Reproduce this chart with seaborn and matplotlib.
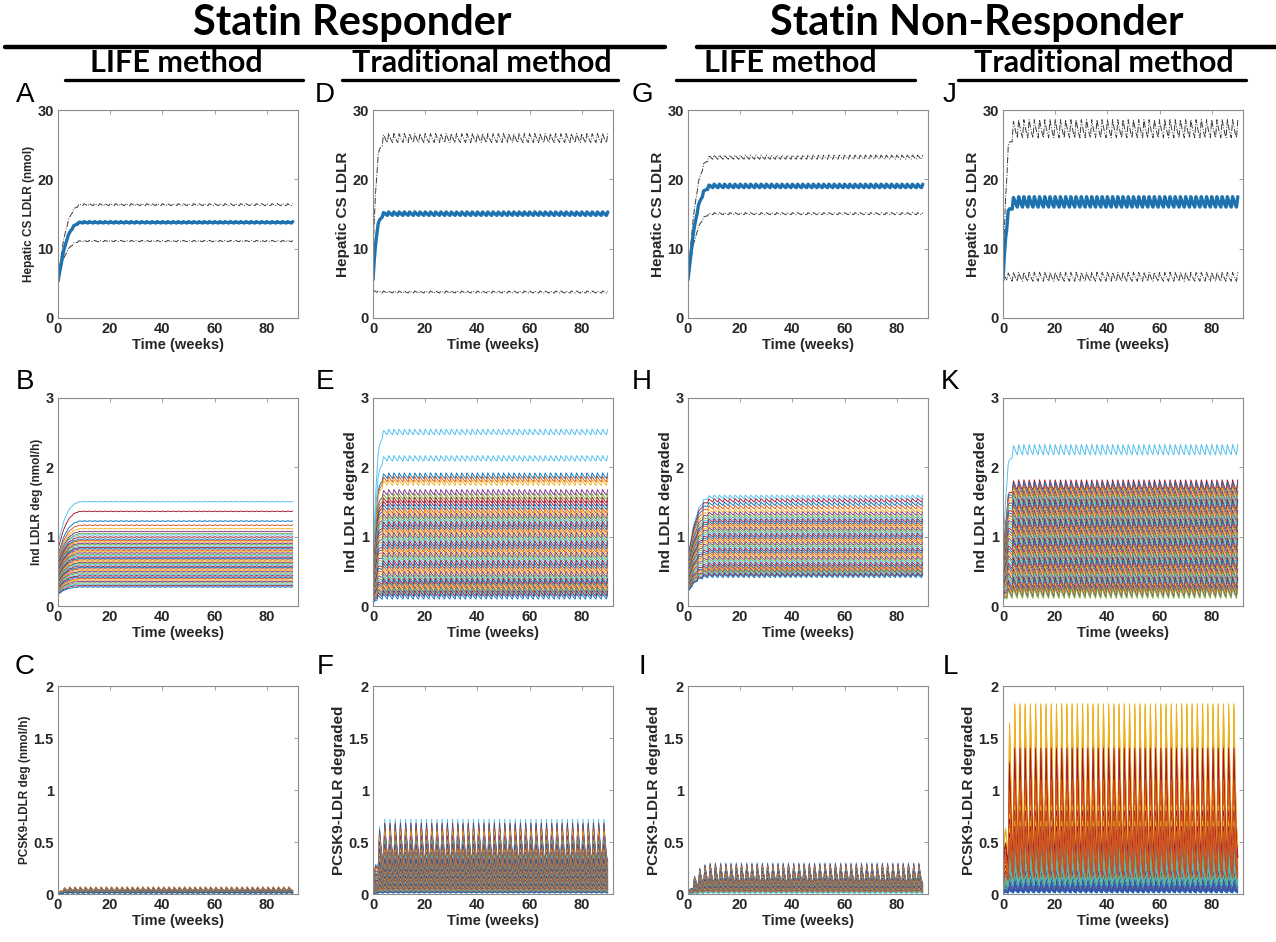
import numpy as np
import pandas as pd
import matplotlib
matplotlib.use("Agg")
import matplotlib.pyplot as plt
from matplotlib.lines import Line2D
from matplotlib.ticker import FuncFormatter
import seaborn as sns

# ---------------- data ----------------
# time axis in weeks, one sample every half week
weeks = np.arange(0, 90.5, 0.5)

# fraction of the plateau reached during the first weeks (half-week steps)
rise_life = [0.0, 0.12, 0.25, 0.37, 0.48, 0.57, 0.65, 0.72, 0.78, 0.83, 0.87,
             0.90, 0.93, 0.95, 0.97, 0.98, 0.99, 1.0]
rise_trad = [0.0, 0.30, 0.55, 0.72, 0.83, 0.90, 0.94, 0.97, 0.99, 1.0]

# shape of one 2-week dosing cycle (4 half-week samples)
wave_smooth = [1.0, 0.6, 0.25, 0.0]
wave_spike = [0.0, 1.0, 0.5, 0.15]

# hepatic CS LDLR: [start, trough, peak] for mean and bounds
cs_A_mean, cs_A_upper, cs_A_lower = [5.3, 13.7, 13.9], [5.8, 16.2, 16.5], [5.8, 11.0, 11.2]
cs_D_mean, cs_D_upper, cs_D_lower = [5.5, 14.8, 15.3], [9.0, 25.3, 26.6], [4.0, 3.6, 3.9]
cs_G_mean, cs_G_upper, cs_G_lower = [5.5, 18.8, 19.3], [6.0, 22.9, 23.5], [6.0, 14.9, 15.2]
cs_J_mean, cs_J_upper, cs_J_lower = [5.5, 16.0, 17.5], [6.0, 26.0, 28.6], [6.0, 5.3, 6.6]

# individual LDLR degraded: plateau peak of each simulated patient
ind_B = [1.51, 1.37, 1.23, 1.17, 1.12, 1.08, 1.05, 1.03, 1.00, 0.97, 0.95, 0.93, 0.91,
         0.89, 0.87, 0.85, 0.83, 0.81, 0.79, 0.77, 0.75, 0.73, 0.71, 0.69, 0.67, 0.65,
         0.63, 0.62, 0.60, 0.58, 0.56, 0.54, 0.52, 0.50, 0.48, 0.46, 0.44, 0.42, 0.40,
         0.38, 0.36, 0.34, 0.32, 0.30, 0.28]
ind_E = [2.55, 1.57, 1.92, 1.87, 1.82, 1.68, 1.62, 2.17, 1.52, 1.47, 1.42, 1.38, 1.34,
         1.30, 1.26, 1.22, 1.18, 1.14, 1.10, 1.06, 1.02, 0.98, 0.94, 0.90, 0.86, 0.82,
         0.78, 0.74, 0.70, 0.66, 0.62, 0.58, 0.54, 0.50, 0.46, 0.43, 0.40, 0.37, 0.34,
         0.31, 0.28, 0.26, 0.24, 0.22, 0.18]
ind_H = [1.60, 1.55, 1.50, 1.45, 1.40, 1.36, 1.32, 1.29, 1.26, 1.23, 1.20, 1.17, 1.14,
         1.11, 1.08, 1.05, 1.02, 0.99, 0.96, 0.93, 0.90, 0.87, 0.84, 0.81, 0.78, 0.75,
         0.72, 0.69, 0.66, 0.63, 0.60, 0.58, 0.56, 0.54, 0.52, 0.50, 0.48, 0.46]
ind_K = [2.33, 1.82, 1.78, 1.74, 1.70, 1.66, 1.62, 1.58, 1.54, 1.50, 1.46, 1.42, 1.38,
         1.34, 1.30, 1.26, 1.22, 1.18, 1.14, 1.10, 1.06, 1.02, 0.98, 0.94, 0.90, 0.86,
         0.82, 0.78, 0.74, 0.70, 0.66, 0.62, 0.58, 0.54, 0.50, 0.46, 0.42, 0.38, 0.35,
         0.32, 0.29, 0.26]

# PCSK9-LDLR degraded: spike height of each simulated patient
pcsk_C = [0.07, 0.066, 0.062, 0.058, 0.055, 0.052, 0.05, 0.048, 0.045, 0.042, 0.04,
          0.038, 0.035, 0.032, 0.03, 0.028, 0.025, 0.022, 0.02, 0.018, 0.015]
pcsk_F = [0.72, 0.68, 0.66, 0.64, 0.60, 0.56, 0.52, 0.50, 0.48, 0.46, 0.44, 0.42, 0.40,
          0.38, 0.36, 0.34, 0.32, 0.30, 0.28, 0.27, 0.26, 0.25, 0.24, 0.23, 0.22, 0.21,
          0.20, 0.19, 0.18, 0.17, 0.16, 0.15, 0.14, 0.13, 0.12, 0.11, 0.10, 0.09, 0.08,
          0.07, 0.06, 0.05, 0.04, 0.03, 0.02]
pcsk_I = [0.30, 0.29, 0.28, 0.27, 0.26, 0.25, 0.24, 0.23, 0.22, 0.21, 0.20, 0.19, 0.18,
          0.17, 0.16, 0.15, 0.14, 0.13, 0.12, 0.11, 0.10, 0.09, 0.08, 0.07, 0.06, 0.05,
          0.04, 0.03, 0.02]
pcsk_L = [1.83, 0.50, 0.44, 0.38, 1.43, 0.30, 1.38, 1.82, 0.28, 0.26, 0.24, 1.42, 0.22,
          1.20, 1.80, 0.20, 0.18, 0.16, 1.40, 0.14, 1.10, 0.95, 0.12, 0.35, 0.32, 0.90,
          0.10, 1.00, 0.85, 0.08, 0.41, 0.47, 0.80, 0.06, 0.75, 0.70, 0.05, 0.54, 0.57,
          0.65, 0.04, 0.60]

matlab = ['#0072BD', '#D95319', '#EDB120', '#7E2F8E', '#77AC30', '#4DBEEE', '#A2142F']

# ---------------- helpers ----------------
def series(start, trough, peak, rise, wave):
    grow = np.concatenate([rise, np.ones(len(weeks) - len(rise))])
    cyc = np.tile(wave, len(weeks) // len(wave) + 1)[:len(weeks)]
    target = trough + (peak - trough) * cyc
    return start + (target - start) * grow


def draw_cs(ax, mean, upper, lower, rise, wave):
    for b in (upper, lower):
        sns.lineplot(x=weeks, y=series(*b, rise, wave), ax=ax, color='#3a3a3a',
                     lw=0.7, linestyle='-.')
    sns.lineplot(x=weeks, y=series(*mean, rise, wave), ax=ax, color='#1f72b0', lw=2.4)


def draw_bundle(ax, peaks, start_frac, trough_fn, rise, wave, offset):
    frames = []
    for i, p in enumerate(peaks):
        y = series(start_frac * p, trough_fn(p), p, rise, wave)
        frames.append(pd.DataFrame({'week': weeks, 'value': y, 'line': f'L{i}'}))
    df = pd.concat(frames, ignore_index=True)
    pal = {f'L{i}': matlab[(i + offset) % 7] for i in range(len(peaks))}
    sns.lineplot(data=df, x='week', y='value', hue='line', palette=pal,
                 estimator=None, legend=False, lw=0.65, sort=False, ax=ax)


def style_axes(ax, ymax, yticks, ylabel, ysize):
    ax.set_xlim(0, 92)
    ax.set_ylim(0, ymax)
    ax.set_xticks([0, 20, 40, 60, 80])
    ax.set_yticks(yticks)
    ax.yaxis.set_major_formatter(FuncFormatter(lambda v, p: f'{v:g}'))
    ax.tick_params(direction='in', length=3, width=0.6, color='#8c8c8c',
                   top=True, right=True, labelsize=10.5, pad=3, labelcolor='#262626')
    for s in ax.spines.values():
        s.set_color('#8c8c8c')
        s.set_linewidth(0.8)
    ax.set_xlabel('Time (weeks)', fontsize=10.5, fontweight='bold', labelpad=1,
                  color='#262626')
    ax.set_ylabel(ylabel, fontsize=ysize, fontweight='bold', labelpad=2, color='#262626')


# ---------------- figure ----------------
sns.set_style("white")
plt.rcParams['font.family'] = ['Liberation Sans', 'DejaVu Sans']
plt.rcParams['font.weight'] = 'bold'

W, H = 1276, 942
fig = plt.figure(figsize=(W / 100, H / 100), dpi=100)

col_left = [58, 373, 688, 1003]
row_top = [110, 398, 686]
axes = [[fig.add_axes([l / W, 1 - (t + 208) / H, 240 / W, 208 / H]) for l in col_left]
        for t in row_top]

# row 1: hepatic CS LDLR
draw_cs(axes[0][0], cs_A_mean, cs_A_upper, cs_A_lower, rise_life, wave_smooth)
draw_cs(axes[0][1], cs_D_mean, cs_D_upper, cs_D_lower, rise_trad, wave_smooth)
draw_cs(axes[0][2], cs_G_mean, cs_G_upper, cs_G_lower, rise_life, wave_smooth)
draw_cs(axes[0][3], cs_J_mean, cs_J_upper, cs_J_lower, rise_trad, wave_smooth)

# row 2: individual LDLR degraded
draw_bundle(axes[1][0], ind_B, 0.6, lambda p: p - 0.01, rise_life, wave_smooth, 5)
draw_bundle(axes[1][1], ind_E, 0.2, lambda p: p - 0.08, rise_trad, wave_smooth, 5)
draw_bundle(axes[1][2], ind_H, 0.45, lambda p: p - 0.05, rise_life, wave_smooth, 5)
draw_bundle(axes[1][3], ind_K, 0.3, lambda p: p - 0.15, rise_trad, wave_smooth, 5)

# row 3: PCSK9-LDLR degraded
draw_bundle(axes[2][0], pcsk_C, 0.0, lambda p: 0.5 * p, rise_trad, wave_spike, 1)
draw_bundle(axes[2][1], pcsk_F, 0.0, lambda p: 0.45 * p, rise_trad, wave_spike, 5)
draw_bundle(axes[2][2], pcsk_I, 0.0, lambda p: 0.35 * p, rise_life, wave_spike, 5)
draw_bundle(axes[2][3], pcsk_L, 0.0, lambda p: 0.25 * p, rise_trad, wave_spike, 2)

ylabels = [
    [('Hepatic CS LDLR (nmol)', 8.5), ('Hepatic CS LDLR', 11), ('Hepatic CS LDLR', 11), ('Hepatic CS LDLR', 11)],
    [('Ind LDLR deg (nmol/h)', 8.5), ('Ind LDLR degraded', 11), ('Ind LDLR degraded', 11), ('Ind LDLR degraded', 11)],
    [('PCSK9-LDLR deg (nmol/h)', 8.5), ('PCSK9-LDLR degraded', 11), ('PCSK9-LDLR degraded', 11), ('PCSK9-LDLR degraded', 11)],
]
row_ylim = [(30, [0, 10, 20, 30]), (3, [0, 1, 2, 3]), (2, [0, 0.5, 1, 1.5, 2])]
for r in range(3):
    for c in range(4):
        style_axes(axes[r][c], row_ylim[r][0], row_ylim[r][1], *ylabels[r][c])

# panel letters
letters = [['A', 'D', 'G', 'J'], ['B', 'E', 'H', 'K'], ['C', 'F', 'I', 'L']]
letter_x = [25, 325, 642, 950]
letter_y = [95, 382, 667]
for r in range(3):
    for c in range(4):
        fig.text(letter_x[c] / W, 1 - letter_y[r] / H, letters[r][c], fontsize=20,
                 fontweight='normal', ha='center', va='center', color='black')

# headers
head_font = ['Lato', 'DejaVu Sans']
fig.text(352 / W, 1 - 23 / H, 'Statin Responder', fontsize=30, fontweight='bold',
         family=head_font, ha='center', va='center', color='black')
fig.text(977 / W, 1 - 23 / H, 'Statin Non-Responder', fontsize=30, fontweight='bold',
         family=head_font, ha='center', va='center', color='black')
for x0, x1 in [(5, 665), (697, 1276)]:
    fig.add_artist(Line2D([x0 / W, x1 / W], [1 - 47 / H] * 2, color='black', lw=3.2,
                          transform=fig.transFigure))

subs = [('LIFE method', 176, 65, 303), ('Traditional method', 482, 342, 618),
        ('LIFE method', 790, 676, 915), ('Traditional method', 1104, 958, 1246)]
for txt, xc, x0, x1 in subs:
    fig.text(xc / W, 1 - 63 / H, txt, fontsize=22, fontweight='bold', family=head_font,
             ha='center', va='center', color='black')
    fig.add_artist(Line2D([x0 / W, x1 / W], [1 - 80 / H] * 2, color='black', lw=2.4,
                          transform=fig.transFigure))

fig.savefig('out.png', dpi=100)
